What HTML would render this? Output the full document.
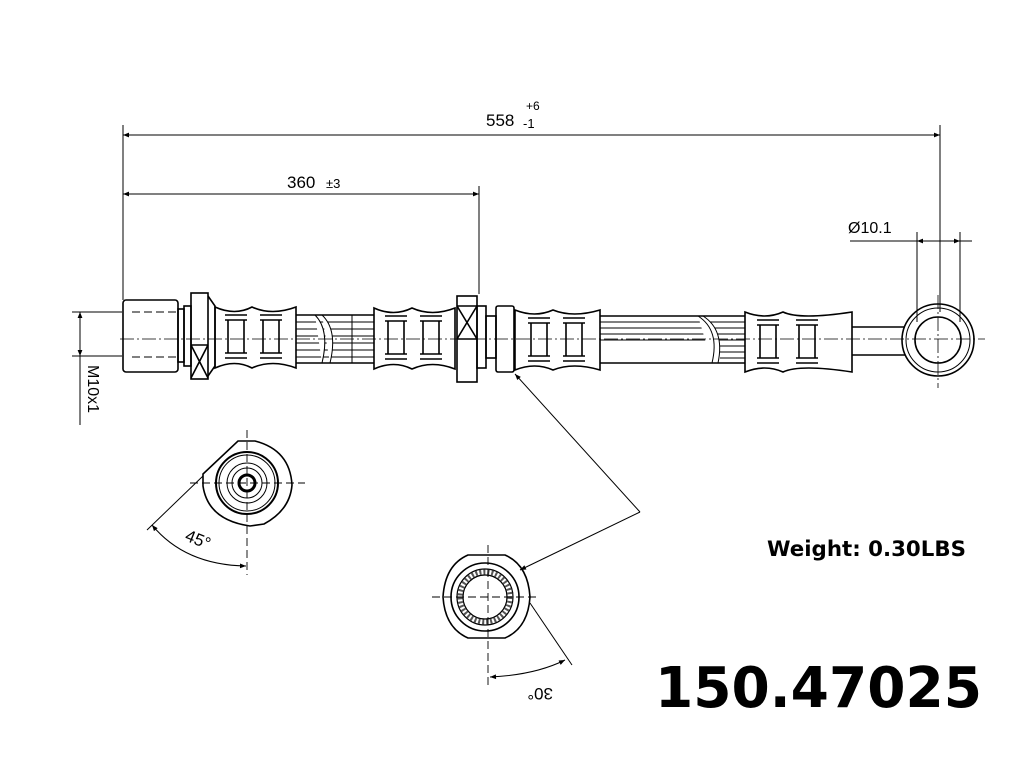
<!DOCTYPE html>
<html><head><meta charset="utf-8"><style>
html,body{margin:0;padding:0;background:#fff;}
svg{display:block;}
text{font-family:"Liberation Sans",sans-serif;}
</style></head><body>
<svg width="1014" height="768" viewBox="0 0 1014 768" xmlns="http://www.w3.org/2000/svg">
<defs>
<marker id="a" viewBox="0 0 10 10" refX="10" refY="5" markerWidth="9" markerHeight="6" orient="auto-start-reverse"><path d="M0,1 L10,5 L0,9 z" fill="#000"/></marker>
<g id="grv">
 <line x1="0" y1="0" x2="22" y2="0"/><line x1="0" y1="5" x2="22" y2="5"/>
 <line x1="3" y1="5" x2="3" y2="38"/><line x1="19" y1="5" x2="19" y2="38"/>
 <line x1="0" y1="38" x2="22" y2="38"/><line x1="0" y1="43" x2="22" y2="43"/>
</g>
</defs>
<rect width="1014" height="768" fill="#fff"/>
<g stroke="#000" stroke-width="1.6" fill="none">
<line x1="123" y1="125" x2="123" y2="300" stroke-width="1"/>
<line x1="940" y1="125" x2="940" y2="312" stroke-width="1"/>
<line x1="123" y1="135" x2="940" y2="135" stroke-width="1" marker-start="url(#a)" marker-end="url(#a)"/>
<line x1="479" y1="186" x2="479" y2="294" stroke-width="1"/>
<line x1="123" y1="194" x2="479" y2="194" stroke-width="1" marker-start="url(#a)" marker-end="url(#a)"/>
<line x1="917" y1="232" x2="917" y2="322" stroke-width="1"/>
<line x1="960" y1="232" x2="960" y2="322" stroke-width="1"/>
<line x1="850" y1="241" x2="972" y2="241" stroke-width="1"/>
<line x1="917" y1="241" x2="960" y2="241" stroke-width="1" marker-start="url(#a)" marker-end="url(#a)"/>
<line x1="72" y1="312" x2="122" y2="312" stroke-width="1"/>
<line x1="72" y1="356" x2="122" y2="356" stroke-width="1"/>
<line x1="80" y1="312" x2="80" y2="356" stroke-width="1" marker-start="url(#a)" marker-end="url(#a)"/>
<line x1="80" y1="356" x2="80" y2="425" stroke-width="1"/>

<rect x="123" y="300" width="55" height="72" rx="3"/>
<line x1="132" y1="312" x2="178" y2="312" stroke-dasharray="8,4" stroke-width="1"/>
<line x1="132" y1="357" x2="178" y2="357" stroke-dasharray="8,4" stroke-width="1"/>
<rect x="178" y="309" width="6" height="53"/>
<rect x="184" y="306" width="7" height="60"/>
<rect x="191" y="293" width="17" height="86"/>
<path d="M191,345 L208,378 M208,345 L191,378 M191,345 L208,345"/>
<path d="M208,296 L215,306 L215,366 L208,376"/>
<path d="M215,307 Q235,316 252,307 Q272,316 296,307 L296,368 Q272,359 252,368 Q235,359 215,368 Z"/>
<use href="#grv" x="225" y="315"/><use href="#grv" x="260" y="315"/>
<path d="M296,315 L374,315 M296,363 L374,363"/>
<g stroke-width="0.9"><line x1="296" y1="322" x2="374" y2="322"/><line x1="296" y1="329" x2="374" y2="329"/><line x1="296" y1="336" x2="374" y2="336"/><line x1="296" y1="343" x2="374" y2="343"/><line x1="296" y1="350" x2="374" y2="350"/><line x1="296" y1="357" x2="374" y2="357"/></g>
<path d="M315,315 Q330,330 322,363 M322,315 Q338,330 330,363" fill="#fff" stroke-width="1"/>
<line x1="352" y1="315" x2="352" y2="363" stroke-width="1"/>
<path d="M374,308 Q394,317 412,308 Q432,317 455,308 L455,369 Q432,360 412,369 Q394,360 374,369 Z"/>
<use href="#grv" x="385" y="316"/><use href="#grv" x="420" y="316"/>
<rect x="457" y="296" width="20" height="86"/>
<path d="M457,306 L477,306 M457,339 L477,306 M457,306 L477,339 M457,339 L477,339"/>
<rect x="477" y="306" width="9" height="62"/>
<rect x="486" y="316" width="10" height="42"/>
<rect x="496" y="306" width="18" height="66" rx="2"/>
<path d="M515,310 Q535,318 553,310 Q573,318 600,310 L600,370 Q573,362 553,370 Q535,362 515,370 Z"/>
<use href="#grv" x="528" y="318"/><use href="#grv" x="563" y="318"/>
<path d="M600,316 L745,316 M600,363 L745,363"/>
<g stroke-width="0.9"><line x1="600" y1="322" x2="745" y2="322"/><line x1="600" y1="328" x2="745" y2="328"/><line x1="600" y1="334" x2="745" y2="334"/><line x1="600" y1="340" x2="745" y2="340"/></g>
<g stroke-width="0.9"><line x1="720" y1="346" x2="745" y2="346"/><line x1="720" y1="352" x2="745" y2="352"/><line x1="720" y1="358" x2="745" y2="358"/></g>
<path d="M698,316 Q720,330 712,363 M703,316 Q725,330 718,363" fill="#fff" stroke-width="1"/>
<path d="M745,312 Q765,320 783,312 Q800,320 852,312 L852,372 Q800,364 783,372 Q765,364 745,372 Z"/>
<use href="#grv" x="757" y="320"/><use href="#grv" x="796" y="320"/>
<path d="M852,327 L905,327 M852,355 L905,355"/>
<circle cx="938" cy="340" r="36"/>
<circle cx="938" cy="340" r="32" stroke-width="1"/>
<circle cx="938" cy="340" r="23"/>
<line x1="120" y1="339" x2="985" y2="339" stroke-width="0.8" stroke-dasharray="14,3,2,3"/>
<line x1="938" y1="295" x2="938" y2="388" stroke-width="0.8" stroke-dasharray="14,3,2,3"/>

<line x1="640" y1="512" x2="515" y2="374" stroke-width="1" marker-end="url(#a)"/>
<line x1="640" y1="512" x2="520" y2="570" stroke-width="1" marker-end="url(#a)"/>

<path d="M238,441 L255,441 Q290,450 292,485 Q290,510 264,524 L250,526 Q208,520 203,486 L203,474 Z"/>
<circle cx="247" cy="483" r="31" stroke-width="2"/>
<circle cx="247" cy="483" r="28" stroke-width="1"/>
<circle cx="247" cy="483" r="20" stroke-width="1"/>
<circle cx="247" cy="483" r="15" stroke-width="1"/>
<circle cx="247" cy="483" r="8" stroke-width="3"/>
<line x1="190" y1="483" x2="305" y2="483" stroke-width="0.9" stroke-dasharray="8,4"/>
<line x1="247" y1="430" x2="247" y2="575" stroke-width="0.9" stroke-dasharray="8,4"/>
<line x1="203" y1="476" x2="147" y2="530" stroke-width="1"/>
<path d="M152,525 Q185,565 246,566" stroke-width="1" marker-start="url(#a)" marker-end="url(#a)"/>
<path d="M468,555 L505,555 Q528,565 530,597 Q528,628 505,638 L468,638 Q445,628 443,597 Q445,565 468,555 Z"/>
<circle cx="485" cy="597" r="34"/>
<circle cx="485" cy="597" r="28" stroke-width="1.2"/>
<circle cx="485" cy="597" r="22" stroke-width="1.2"/>
<circle cx="485" cy="597" r="25" stroke-width="5" stroke="#555" stroke-dasharray="2,2"/>
<line x1="432" y1="597" x2="540" y2="597" stroke-width="0.9" stroke-dasharray="8,4"/>
<line x1="488" y1="545" x2="488" y2="685" stroke-width="0.9" stroke-dasharray="8,4"/>
<line x1="530" y1="603" x2="572" y2="665" stroke-width="1"/>
<path d="M490,677 Q535,675 565,660" stroke-width="1" marker-start="url(#a)" marker-end="url(#a)"/>
</g>
<g fill="#000">
<text x="486" y="126" font-size="17">558</text>
<text x="526" y="110" font-size="12">+6</text>
<text x="523" y="128" font-size="13">-1</text>
<text x="287" y="188" font-size="17">360</text>
<text x="326" y="188" font-size="13">±3</text>
<text x="848" y="233" font-size="16">Ø10.1</text>
<text font-size="16" transform="translate(88,365) rotate(90)">M10x1</text>
<text font-size="17" transform="translate(184,540) rotate(22)">45°</text>
<text font-size="17" transform="translate(553,688) rotate(180)">30°</text>
<text x="767" y="556" font-size="21" font-weight="bold" style="font-family:'DejaVu Sans',sans-serif" textLength="199" lengthAdjust="spacingAndGlyphs">Weight: 0.30LBS</text>
<text x="655" y="707" font-size="56" font-weight="bold" style="font-family:'DejaVu Sans',sans-serif" textLength="327" lengthAdjust="spacingAndGlyphs">150.47025</text>
</g>
</svg>
</body></html>
